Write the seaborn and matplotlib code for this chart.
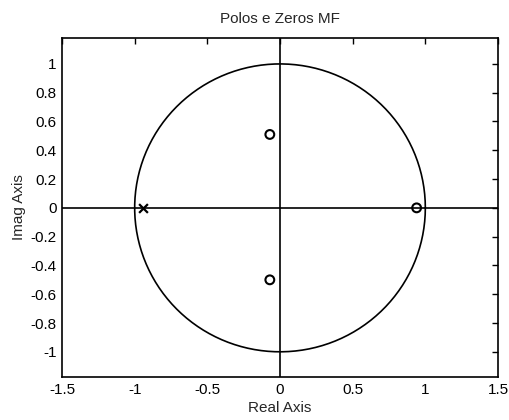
import numpy as np
import pandas as pd
import matplotlib
matplotlib.use("Agg")
import matplotlib.pyplot as plt
import seaborn as sns

# Closed-loop poles and zeros
pole_re = [-0.94]
pole_im = [0.0]
zero_re = [-0.07, -0.07, 0.94]
zero_im = [0.51, -0.50, 0.0]

x_ticks = [-1.5, -1, -0.5, 0, 0.5, 1, 1.5]
y_ticks = [-1, -0.8, -0.6, -0.4, -0.2, 0, 0.2, 0.4, 0.6, 0.8, 1]

sns.set_style("white")
plt.rcParams["font.family"] = ["Liberation Sans", "DejaVu Sans"]
plt.rcParams["font.size"] = 11

fig = plt.figure(figsize=(5.09, 4.20), dpi=100)
ax = fig.add_axes([0.1218, 0.1024, 0.8566, 0.8071])

poles = pd.DataFrame({"re": pole_re, "im": pole_im})
zeros = pd.DataFrame({"re": zero_re, "im": zero_im})

# unit circle and the real / imaginary axes
theta = np.linspace(0, 2 * np.pi, 400)
ax.plot(np.cos(theta), np.sin(theta), color="black", lw=1.2, zorder=2)
ax.axhline(0, color="black", lw=1.2, zorder=2)
ax.axvline(0, color="black", lw=1.2, zorder=2)

sns.scatterplot(data=poles, x="re", y="im", marker="x", s=40, color="black",
                linewidth=1.6, ax=ax, zorder=3, legend=False)
sns.scatterplot(data=zeros, x="re", y="im", marker="o", s=40,
                facecolor="none", edgecolor="black", linewidth=1.5,
                ax=ax, zorder=3, legend=False)

ax.set_xlim(-1.5, 1.5)
ax.set_ylim(-1.175, 1.18)
ax.set_xticks(x_ticks)
ax.set_xticklabels([f"{v:g}" for v in x_ticks])
ax.set_yticks(y_ticks)
ax.set_yticklabels([f"{v:g}" for v in y_ticks])
ax.tick_params(direction="in", length=4, width=1.0, top=True, right=True,
               labelsize=11, colors="black", pad=4)
for sp in ax.spines.values():
    sp.set_visible(True)
    sp.set_color("black")
    sp.set_linewidth(1.2)

ax.set_xlabel("Real Axis", fontsize=11, labelpad=3)
ax.set_ylabel("Imag Axis", fontsize=11, labelpad=3)
ax.set_title("Polos e Zeros MF", fontsize=11, pad=11)

fig.savefig("out.png", dpi=100, facecolor="white")
